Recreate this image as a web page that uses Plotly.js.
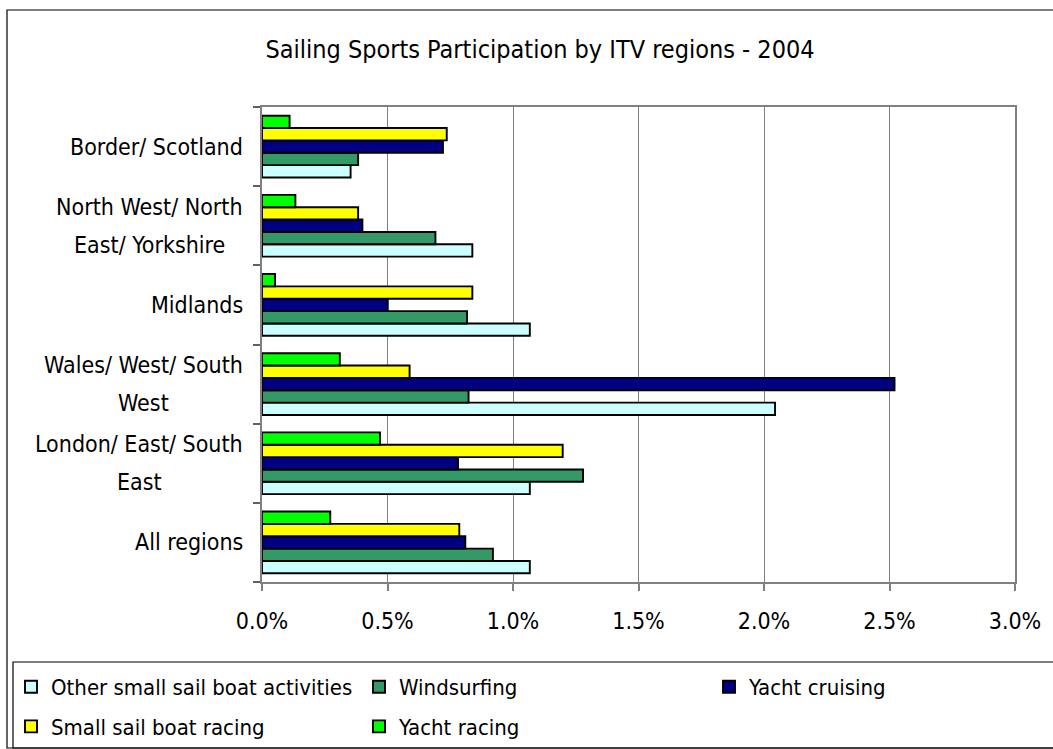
<!DOCTYPE html>
<html>
<head>
<meta charset="utf-8">
<script src="https://cdn.plot.ly/plotly-3.0.1.min.js"></script>
<style>
  html, body { margin: 0; padding: 0; background: #ffffff; }
  #chart { width: 1053px; height: 749px; }
</style>
</head>
<body>
<div id="chart"></div>
<script>
// ---- data (percent of population, values as fractions) ----
var regions = [
  "All regions",
  "London/ East/ South East",
  "Wales/ West/ South West",
  "Midlands",
  "North West/ North East/ Yorkshire",
  "Border/ Scotland"
];
var regionLabels = [
  ["All regions"],
  ["London/ East/ South", "East"],
  ["Wales/ West/ South", "West"],
  ["Midlands"],
  ["North West/ North", "East/ Yorkshire"],
  ["Border/ Scotland"]
];
var otherSmallSail   = [0.01067, 0.01067, 0.02044, 0.01067, 0.00838, 0.00353];
var windsurfing      = [0.00920, 0.01279, 0.00823, 0.00817, 0.00691, 0.00383];
var yachtCruising    = [0.00810, 0.00781, 0.02520, 0.00501, 0.00400, 0.00721];
var smallSailRacing  = [0.00786, 0.01198, 0.00588, 0.00838, 0.00383, 0.00736];
var yachtRacing      = [0.00272, 0.00470, 0.00310, 0.00052, 0.00133, 0.00110];
var seriesNames = ["Other small sail boat activities", "Windsurfing", "Yacht cruising",
                   "Small sail boat racing", "Yacht racing"];
var xTickVals = [0, 0.005, 0.01, 0.015, 0.02, 0.025, 0.03];

// ---- styling ----
var FONT = "DejaVu Sans Condensed, DejaVu Sans, sans-serif";
var colors = ["#CCFFFF", "#339966", "#000080", "#FFFF00", "#00FF00"];
var seriesValues = [otherSmallSail, windsurfing, yachtCruising, smallSailRacing, yachtRacing];
// legend column each series sits in (the reference lays the legend out in 3 columns)
var legendColumn = ["legend", "legend2", "legend3", "legend", "legend2"];

var W = 1053, H = 749;
var M = {l: 262, r: 38, t: 107, b: 167, autoexpand: false};
var PW = W - M.l - M.r, PH = H - M.t - M.b;
function px2x(px) { return (px - M.l) / PW; }
function px2y(py) { return (H - M.b - py) / PH; }

var traces = seriesValues.map(function (vals, i) {
  return {
    type: "bar",
    orientation: "h",
    name: seriesNames[i],
    y: regions,
    x: vals,
    legend: legendColumn[i],
    legendgroup: "g" + i,
    marker: {color: colors[i], line: {color: "#000000", width: 1.9}},
    hoverinfo: "x+y+name"
  };
});

// measure label widths to centre multi-line labels like the original
var cv = document.createElement("canvas").getContext("2d");
var LABEL_SIZE = 23;
cv.font = LABEL_SIZE + "px 'DejaVu Sans Condensed'";
var annotations = [];
regionLabels.forEach(function (lines, i) {
  var w0 = cv.measureText(lines[0]).width;
  var n = lines.length;
  lines.forEach(function (ln, j) {
    var shift = n === 1 ? 0 : (j === 0 ? 19 : -19);
    annotations.push({
      xref: "paper", yref: "y",
      x: 0, y: regions[i],
      xanchor: "center", yanchor: "middle",
      xshift: -(19 + w0 / 2),
      yshift: shift,
      text: ln, showarrow: false,
      font: {family: FONT, size: LABEL_SIZE, color: "#000000"}
    });
  });
});

var shapes = [
  // outer chart border
  {type: "rect", xref: "paper", yref: "paper",
   x0: px2x(7), x1: px2x(1070), y0: px2y(748), y1: px2y(10),
   line: {color: "#000000", width: 1.2}, fillcolor: "rgba(0,0,0,0)", layer: "below"},
  // legend box
  {type: "rect", xref: "paper", yref: "paper",
   x0: px2x(13), x1: px2x(1070), y0: px2y(748), y1: px2y(662),
   line: {color: "#000000", width: 1.2}, fillcolor: "rgba(0,0,0,0)", layer: "below"}
];

function legendCol(xpx) {
  return {
    orientation: "v",
    xref: "container", yref: "container",
    x: xpx / W, xanchor: "left",
    y: 1 - 666 / H, yanchor: "top",
    traceorder: "grouped",
    tracegroupgap: 8,
    font: {family: FONT, size: 22, color: "#000000"},
    bgcolor: "rgba(0,0,0,0)", borderwidth: 0
  };
}

var layout = {
  width: W, height: H,
  margin: M,
  paper_bgcolor: "#ffffff",
  plot_bgcolor: "#ffffff",
  font: {family: FONT, size: 23, color: "#000000"},
  title: {
    text: "Sailing Sports Participation by ITV regions - 2004",
    font: {family: FONT, size: 25, color: "#000000"},
    xref: "container", yref: "container",
    x: 540 / W, xanchor: "center",
    y: 1 - 49 / H, yanchor: "middle"
  },
  barmode: "group",
  bargap: 0.22,
  bargroupgap: 0,
  xaxis: {
    range: [0, 0.03],
    tickvals: xTickVals,
    tickformat: ".1%",
    showgrid: true, gridcolor: "#808080", gridwidth: 1,
    zeroline: false,
    showline: true, linecolor: "#808080", linewidth: 1.5, mirror: true,
    ticks: "outside", ticklen: 7, tickcolor: "#808080", tickwidth: 1.5,
    ticklabelstandoff: 11,
    tickangle: 0,
    automargin: false,
    tickfont: {family: FONT, size: 23, color: "#000000"},
    fixedrange: true
  },
  yaxis: {
    type: "category",
    categoryorder: "array", categoryarray: regions,
    showticklabels: false,
    showgrid: false, zeroline: false,
    showline: true, linecolor: "#808080", linewidth: 1.5, mirror: true,
    ticks: "outside", tickson: "boundaries", ticklen: 7, tickcolor: "#606060", tickwidth: 1.5,
    automargin: false,
    fixedrange: true
  },
  showlegend: true,
  legend: legendCol(11),
  legend2: legendCol(359),
  legend3: legendCol(709),
  annotations: annotations,
  shapes: shapes
};

Plotly.newPlot("chart", traces, layout, {displayModeBar: false, staticPlot: false});
</script>
</body>
</html>
